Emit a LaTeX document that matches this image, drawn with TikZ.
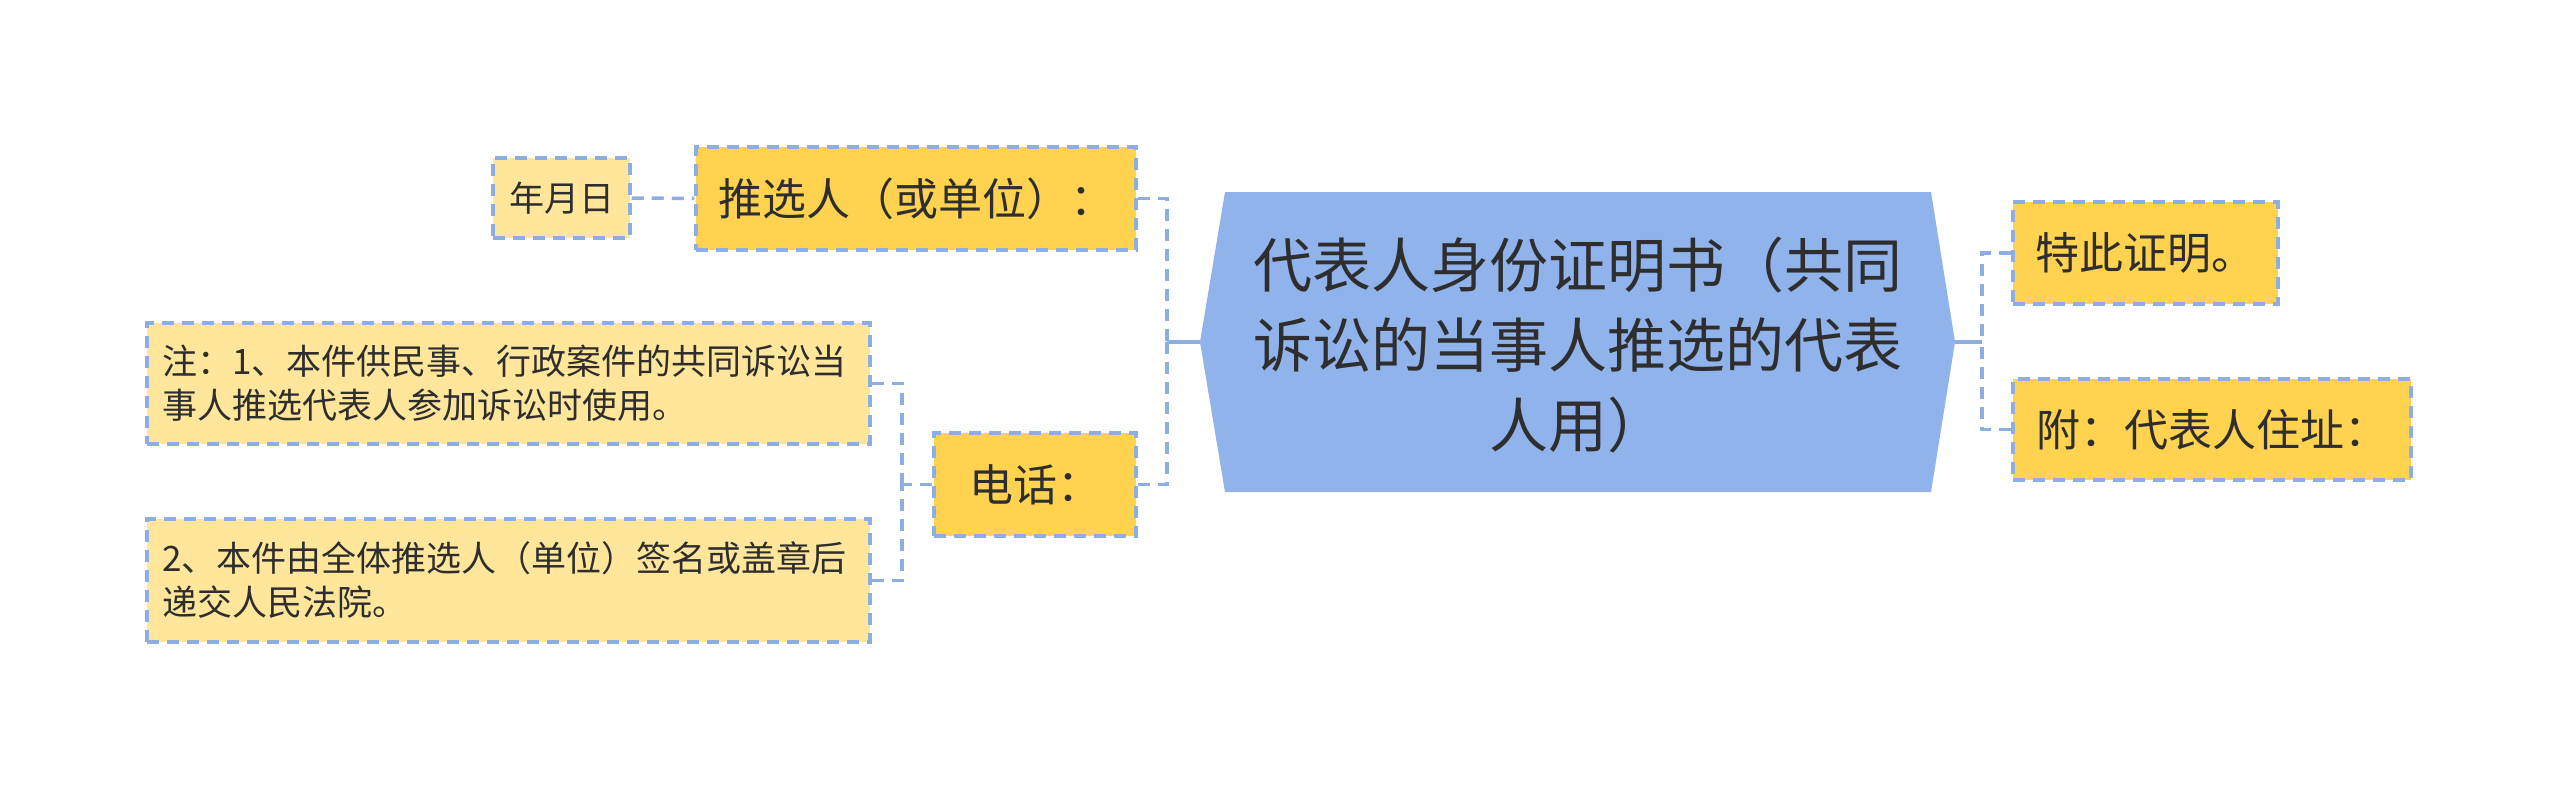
\documentclass[tikz,border=0pt]{standalone}
\usepackage{fontspec}
\setmainfont{Noto Sans CJK SC}
\usetikzlibrary{calc}
\definecolor{gold}{HTML}{FFD34F}
\definecolor{lightgold}{HTML}{FFE69B}
\definecolor{bline}{HTML}{8DAEE3}
\definecolor{cfill}{HTML}{90B3EB}
\definecolor{txt}{HTML}{2E2E2E}
\begin{document}
\begin{tikzpicture}[x=1pt,y=-1pt,
  box/.style={draw=bline, line width=3.5pt, dash pattern=on 12pt off 8pt, text=txt, inner sep=0pt, align=center},
  goldbox/.style={box, fill=gold, font=\fontsize{44}{54}\selectfont},
  lightbox/.style={box, fill=lightgold, font=\fontsize{35}{44}\selectfont},
  conn/.style={draw=bline, line width=3.5pt, dash pattern=on 12pt off 8pt},
  solidconn/.style={draw=bline, line width=4pt}]
\useasboundingbox (0,0) rectangle (2560,792);
\fill[white] (0,0) rectangle (2560,792);

% central node
\coordinate (cl) at (1200,342);
\coordinate (cr) at (1955,342);
\fill[cfill] (1225,192) -- (1931,192) -- (cr) -- (1931,492) -- (1225,492) -- (cl) -- cycle;
\node[text=txt, align=center, font=\fontsize{59}{80}\selectfont] (c) at (1578,345)
  {代表人身份证明书（共同\\诉讼的当事人推选的代表\\人用）};

% left branch
\node[goldbox, minimum width=440, minimum height=103] (tx) at (916,198.5) {推选人（或单位）：};
\node[box, fill=lightgold, font=\fontsize{35}{44}\selectfont, minimum width=137, minimum height=80] (nyr) at (561.5,198) {年月日};
\node[goldbox, minimum width=202, minimum height=103] (dh) at (1035,484.5) {电话：};
\node[lightbox, minimum width=723, minimum height=121, text width=693, align=left] (zhu) at (508.5,383.5)
  {注：1、本件供民事、行政案件的共同诉讼当\\事人推选代表人参加诉讼时使用。};
\node[lightbox, minimum width=723, minimum height=123, text width=693, align=left] (er) at (508.5,580.5)
  {2、本件由全体推选人（单位）签名或盖章后\\递交人民法院。};

% right branch
\node[goldbox, minimum width=265, minimum height=102] (tb) at (2145.5,253) {特此证明。};
\node[goldbox, minimum width=398, minimum height=101] (fu) at (2212,429.5) {附：代表人住址：};

% connectors
\coordinate (jl) at (1167,342);
\coordinate (jr) at (1982,342);
\coordinate (jd) at (902,484.5);
\draw[solidconn] (cl) -- (jl);
\draw[conn] (tx.east) -| (jl);
\draw[conn] (dh.east) -| (jl);
\draw[solidconn] (cr) -- (jr);
\draw[conn] (tb.west) -| (jr);
\draw[conn] (fu.west) -| (jr);
\draw[conn] (nyr.east) -- (tx.west);
\draw[conn] (dh.west) -- (jd);
\draw[conn] (zhu.east) -| (jd);
\draw[conn] (er.east) -| (jd);
\end{tikzpicture}
\end{document}
